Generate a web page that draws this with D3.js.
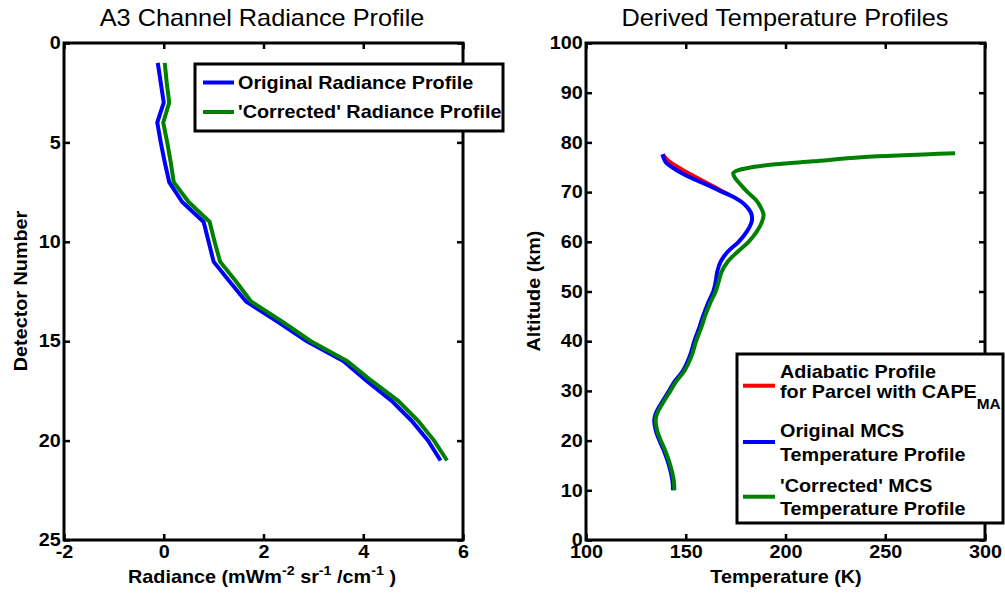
<!DOCTYPE html>
<html lang="en">
<head>
<meta charset="UTF-8">
<title>A3 Radiance / Temperature Profiles</title>
<script src="https://cdn.jsdelivr.net/npm/d3@7"></script>
<style>
  body { margin: 0; background: #fff; }
  text { font-family: "Liberation Sans", Arial, Helvetica, sans-serif; fill: #000; }
</style>
</head>
<body>
<script>
    const width  = 1005;
    const height = 599;
    const sx = 1.1;   // text in the source figure is slightly stretched sideways

    // ---- left panel: radiance vs detector number ----
    const detector     = [1,2,3,4,5,6,7,8,9,10,11,12,13,14,15,16,17,18,19,20,21];
    const radOriginal  = [-0.12,-0.06,0.0,-0.13,-0.06,0.02,0.11,0.37,0.8,0.9,1.0,1.32,1.65,2.27,2.87,3.6,4.07,4.57,4.97,5.3,5.55];
    const radCorrected = [0.02,0.06,0.11,-0.01,0.07,0.14,0.2,0.5,0.92,1.02,1.13,1.45,1.75,2.37,2.95,3.68,4.17,4.7,5.1,5.42,5.68];
    const radTicks = [-2,0,2,4,6];
    const detTicks = [0,5,10,15,20,25];

    // ---- right panel: altitude (km) vs temperature (K) ----
    const altOriginal  = [10,12,15,18,20,22,24,25.5,27,30,32,34,37,40,43,45,48,50,52,54,56,58,60,62,64,65,66,67.5,69,70,71.5,73,74.5,76,77,77.6];
    const tempOriginal = [143.6,143.3,141.6,139,136.8,135,134.2,135,137,141.6,144.6,148.5,152,154.3,157,158.6,161.5,163.8,165,165.8,167.5,171,176.5,180.5,183,183.2,182.5,179.5,174,168.5,160.5,152,145,140,138.8,138.3];
    const altCorrected  = [10,12,15,18,20,22,24,25.5,27,30,32,34,37,40,43,45,48,50,52,54,56,58,60,62,64,65.5,67,68.5,70,71.5,73,73.8,74.3,75,75.6,76.2,77,77.8];
    const tempCorrected = [144.3,144,142.3,139.7,137.5,135.7,134.9,135.7,137.7,142.3,145.4,149.3,152.9,155.2,158,159.6,162.6,165,166.5,168,171,176,181.5,185.5,188.2,189,187.5,185,181,177.5,174.5,173.8,175.5,183,195,214,238,285];
    const altAdiabat  = [69.5,71,72.5,74,75.5,76.8,77.6];
    const tempAdiabat = [171.5,164.5,157.5,150.5,144,140,138.5];
    const tempTicks = [100,150,200,250,300];
    const altTicks  = [0,10,20,30,40,50,60,70,80,90,100];

    const svg = d3.select("body").append("svg")
        .attr("width", width).attr("height", height);

    // stretched text helper
    function label(g, x, y, str, opts) {
        opts = opts || {};
        const t = g.append("g")
            .attr("transform", "translate(" + [x, y] + ")" + (opts.rotate ? " rotate(" + opts.rotate + ")" : ""))
          .append("text")
            .attr("transform", "scale(" + sx + ",1)")
            .attr("text-anchor", opts.anchor || "start")
            .style("font-size", (opts.size || 18) + "px")
            .style("font-weight", opts.weight || "bold");
        if (opts.dy) t.attr("dy", opts.dy);
        t.text(str);
        return t;
    }

    // plain hyphen minus like the source, not d3's unicode minus
    const plain = d => String(d);

    function drawAxes(g, x, y, xTicks, yTicks) {
        const [x0, x1] = x.range();
        const top = d3.min(y.range()), bottom = d3.max(y.range());

        g.append("g")
            .attr("transform", "translate(0," + bottom + ")")
            .call(d3.axisBottom(x).tickValues(xTicks).tickFormat(plain).tickSizeInner(-6).tickSizeOuter(0).tickPadding(5))
            .call(a => a.select(".domain").remove());
        g.append("g")
            .attr("transform", "translate(0," + top + ")")
            .call(d3.axisTop(x).tickValues(xTicks).tickSizeInner(-6).tickSizeOuter(0).tickFormat(""))
            .call(a => a.select(".domain").remove());
        g.append("g")
            .attr("transform", "translate(" + x0 + ",0)")
            .call(d3.axisLeft(y).tickValues(yTicks).tickFormat(plain).tickSizeInner(-6).tickSizeOuter(0).tickPadding(3))
            .call(a => a.select(".domain").remove());
        g.append("g")
            .attr("transform", "translate(" + x1 + ",0)")
            .call(d3.axisRight(y).tickValues(yTicks).tickSizeInner(-6).tickSizeOuter(0).tickFormat(""))
            .call(a => a.select(".domain").remove());

        g.selectAll(".tick line").attr("stroke", "#000").attr("stroke-width", 2.5);
        g.selectAll(".tick text")
            .attr("transform", "scale(" + sx + ",1)")
            .style("font-family", "'Liberation Sans', Arial, sans-serif")
            .style("font-size", "18px")
            .style("font-weight", "bold")
            .attr("fill", "#000");

        g.append("rect")
            .attr("x", x0).attr("y", top)
            .attr("width", x1 - x0).attr("height", bottom - top)
            .attr("fill", "none").attr("stroke", "#000").attr("stroke-width", 3);
    }

    // ================= left panel =================
    const xL = d3.scaleLinear().domain([-2, 6]).range([64, 463]);
    const yL = d3.scaleLinear().domain([0, 25]).range([43, 540]);
    const gL = svg.append("g");

    const radLine = vals => d3.line()
        .x((d, i) => xL(vals[i]))
        .y(d => yL(d))(detector);

    gL.append("path").attr("d", radLine(radOriginal))
        .attr("fill", "none").attr("stroke", "#0000ff").attr("stroke-width", 4);
    gL.append("path").attr("d", radLine(radCorrected))
        .attr("fill", "none").attr("stroke", "#008000").attr("stroke-width", 4);

    drawAxes(gL, xL, yL, radTicks, detTicks);

    label(gL, 262, 26, "A3 Channel Radiance Profile", {anchor: "middle", size: 23, weight: "normal"});
    label(gL, 27, 291, "Detector Number", {anchor: "middle", rotate: -90});
    const radLabel = label(gL, 262, 583, "", {anchor: "middle"});
    radLabel.append("tspan").text("Radiance (mWm");
    radLabel.append("tspan").attr("dy", -8).style("font-size", "13px").text("-2");
    radLabel.append("tspan").attr("dy", 8).text(" sr");
    radLabel.append("tspan").attr("dy", -8).style("font-size", "13px").text("-1");
    radLabel.append("tspan").attr("dy", 8).text(" /cm");
    radLabel.append("tspan").attr("dy", -8).style("font-size", "13px").text("-1");
    radLabel.append("tspan").attr("dy", 8).text(" )");

    // left legend
    const legL = gL.append("g");
    legL.append("rect").attr("x", 195).attr("y", 64).attr("width", 308).attr("height", 67)
        .attr("fill", "#fff").attr("stroke", "#000").attr("stroke-width", 3);
    const legLItems = [
        {name: "Original Radiance Profile", color: "#0000ff", y: 82.5},
        {name: "'Corrected' Radiance Profile", color: "#008000", y: 112}
    ];
    legLItems.forEach(d => {
        legL.append("line").attr("x1", 203).attr("x2", 234).attr("y1", d.y).attr("y2", d.y)
            .attr("stroke", d.color).attr("stroke-width", 4);
        label(legL, 238, d.y, d.name, {dy: "0.35em"});
    });

    // ================= right panel =================
    const xR = d3.scaleLinear().domain([100, 300]).range([586, 985]);
    const yR = d3.scaleLinear().domain([0, 100]).range([540, 43]);
    const gR = svg.append("g");

    const profile = (alts, temps) => d3.line()
        .x((d, i) => xR(temps[i]))
        .y(d => yR(d))
        .curve(d3.curveCatmullRom)(alts);

    gR.append("path").attr("d", profile(altAdiabat, tempAdiabat))
        .attr("fill", "none").attr("stroke", "#ff0000").attr("stroke-width", 4);
    gR.append("path").attr("d", profile(altOriginal, tempOriginal))
        .attr("fill", "none").attr("stroke", "#0000ff").attr("stroke-width", 4);
    gR.append("path").attr("d", profile(altCorrected, tempCorrected))
        .attr("fill", "none").attr("stroke", "#008000").attr("stroke-width", 4);

    drawAxes(gR, xR, yR, tempTicks, altTicks);

    label(gR, 785, 26, "Derived Temperature Profiles", {anchor: "middle", size: 23, weight: "normal"});
    label(gR, 540, 291, "Altitude (km)", {anchor: "middle", rotate: -90});
    label(gR, 786, 583, "Temperature (K)", {anchor: "middle"});

    // right legend
    const legR = gR.append("g");
    legR.append("rect").attr("x", 737).attr("y", 354).attr("width", 266).attr("height", 169)
        .attr("fill", "#fff").attr("stroke", "#000").attr("stroke-width", 3);
    const legRItems = [
        {lines: ["Adiabatic Profile", "for Parcel with CAPE"], color: "#ff0000", y: 385.7, base: [377.7, 398.3]},
        {lines: ["Original MCS", "Temperature Profile"], color: "#0000ff", y: 442, base: [436.7, 460.5]},
        {lines: ["'Corrected' MCS", "Temperature Profile"], color: "#008000", y: 496.7, base: [491.7, 515]}
    ];
    legRItems.forEach((d, k) => {
        legR.append("line").attr("x1", 743).attr("x2", 775).attr("y1", d.y).attr("y2", d.y)
            .attr("stroke", d.color).attr("stroke-width", 4);
        d.lines.forEach((s, j) => {
            const t = label(legR, 780, d.base[j], s);
            if (k === 0 && j === 1) {
                t.append("tspan").attr("dy", 11).style("font-size", "14px").text("MA");
            }
        });
    });
</script>
</body>
</html>
